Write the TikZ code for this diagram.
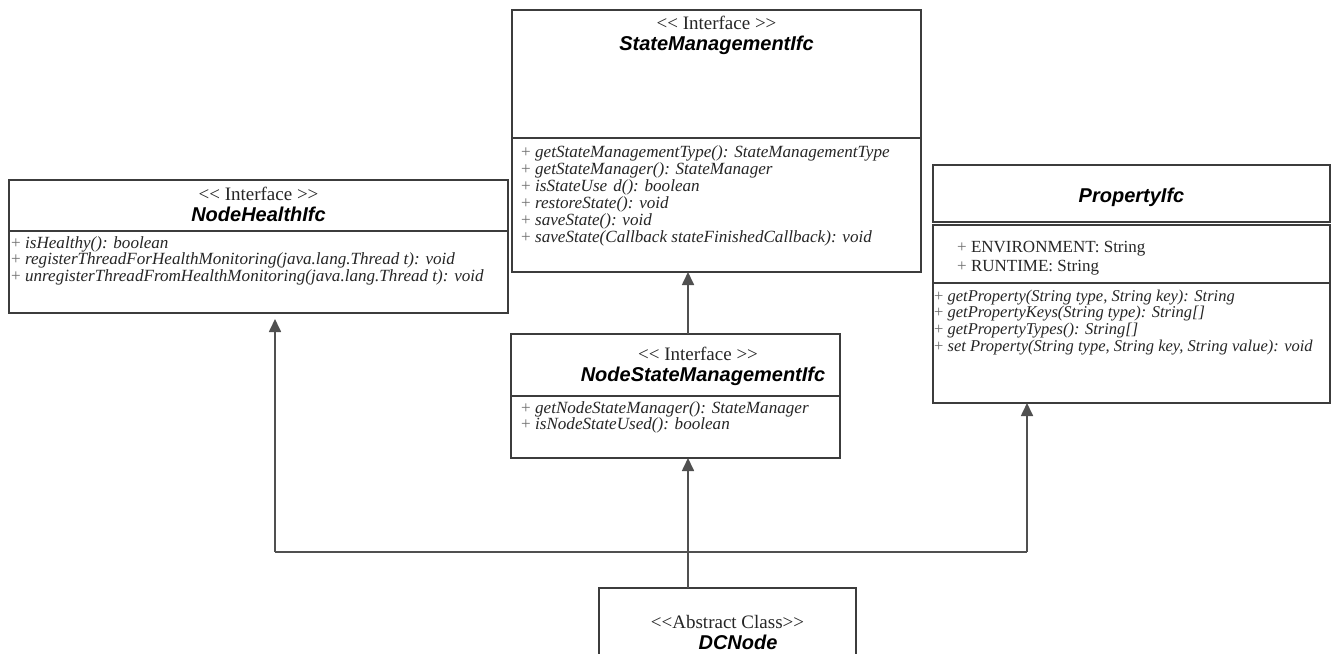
\documentclass[tikz,border=0pt]{standalone}
\usepackage{fontspec}
\setmainfont{Liberation Serif}
\newfontfamily\headfont{Liberation Sans}
\usetikzlibrary{arrows.meta}

\definecolor{frame}{HTML}{3C3C3C}
\definecolor{wire}{HTML}{505050}
\definecolor{ink}{HTML}{262626}
\definecolor{plusink}{HTML}{707070}

% stereotype brackets kept as two separate characters
\newcommand\dlt{<\kern0pt<}
\newcommand\dgt{>\kern0pt>}
\newcommand\plusmark{{\upshape\color{plusink}+}\ }

\tikzset{
  umlbox/.style={draw=frame, line width=1.7pt, rectangle, inner sep=0pt, outer sep=0pt, anchor=north west},
  divider/.style={draw=frame, line width=1.7pt},
  stereo/.style={font=\fontsize{19}{21}\selectfont, text=ink, inner sep=0pt, anchor=base},
  cname/.style={font=\headfont\bfseries\itshape\fontsize{20}{22}\selectfont, text=black, inner sep=0pt, anchor=base},
  member/.style={font=\itshape\fontsize{17.1}{18}\selectfont, text=ink, inner sep=0pt, anchor=base west},
  smallmember/.style={member, font=\itshape\fontsize{16.5}{18}\selectfont},
  attr/.style={font=\fontsize{17}{18}\selectfont, text=ink, inner sep=0pt, anchor=base west},
  wireline/.style={draw=wire, line width=1.7pt},
  inherit/.style={wireline, -{Triangle[width=12pt,length=13pt]}},
}

\begin{document}
\begin{tikzpicture}[x=1pt,y=-1pt]
\useasboundingbox (0,0) rectangle (1338,653);
\clip (0,0) rectangle (1338,653);
\fill[white] (0,0) rectangle (1338,653);

% StateManagementIfc
\node[umlbox, minimum width=409pt, minimum height=262pt] (sm) at (512,10) {};
\draw[divider] (512,138) -- (921,138);
\node[stereo] (sm-st) at (716.5,29) {{\dlt} Interface {\dgt}};
\node[cname] (sm-nm) at (716.5,50) {StateManagementIfc};
\foreach \t [count=\i] in {{getStateManagementType(): StateManagementType},
    {getStateManager(): StateManager}, {isStateUse\hspace{0.35em}d(): boolean},
    {restoreState(): void}, {saveState(): void},
    {saveState(Callback stateFinishedCallback): void}}
  \node[member] (sm-m\i) at (521,{157+17*(\i-1)}) {\plusmark\t};

% NodeHealthIfc
\node[umlbox, minimum width=499pt, minimum height=133pt] (nh) at (9,180) {};
\draw[divider] (9,231) -- (508,231);
\node[stereo] (nh-st) at (258.5,200) {{\dlt} Interface {\dgt}};
\node[cname] (nh-nm) at (258.5,221) {NodeHealthIfc};
\foreach \t [count=\i] in {{isHealthy(): boolean},
    {registerThreadForHealthMonitoring(java.lang.Thread t): void},
    {unregisterThreadFromHealthMonitoring(java.lang.Thread t): void}}
  \node[member] (nh-m\i) at (11,{248+16.5*(\i-1)}) {\plusmark\t};

% PropertyIfc
\node[umlbox, minimum width=397pt, minimum height=57pt] (ph) at (933,165) {};
\node[umlbox, minimum width=397pt, minimum height=178pt] (pb) at (933,225) {};
\draw[divider] (933,283) -- (1330,283);
\node[cname] (ph-nm) at (1131.5,202) {PropertyIfc};
\node[attr] (pb-a1) at (957,252) {\plusmark ENVIRONMENT: String};
\node[attr] (pb-a2) at (957,271) {\plusmark RUNTIME: String};
\foreach \t [count=\i] in {{getProperty(String type, String key): String},
    {getPropertyKeys(String type): String[]}, {getPropertyTypes(): String[]},
    {set Property(String type, String key, String value): void}}
  \node[smallmember] (pb-m\i) at (934,{301+16.7*(\i-1)}) {\plusmark\t};

% NodeStateManagementIfc
\node[umlbox, minimum width=329pt, minimum height=124pt] (nsm) at (511,334) {};
\draw[divider] (511,396) -- (840,396);
\node[stereo] (nsm-st) at (698,360) {{\dlt} Interface {\dgt}};
\node[cname] (nsm-nm) at (703,381) {NodeStateManagementIfc};
\foreach \t [count=\i] in {{getNodeStateManager(): StateManager},
    {isNodeStateUsed(): boolean}}
  \node[member] (nsm-m\i) at (521,{413+16.5*(\i-1)}) {\plusmark\t};

% DCNode
\node[umlbox, minimum width=257pt, minimum height=120pt] (dc) at (599,588) {};
\node[stereo] (dc-st) at (727.5,628) {{\dlt}Abstract Class{\dgt}};
\node[cname] (dc-nm) at (738,649) {DCNode};

% generalisation connectors
\coordinate (j) at (688,552);
\coordinate (jl) at (275,552);
\coordinate (jr) at (1027,552);
\draw[wireline] (jl) -- (jr);
\draw[inherit] (dc.north -| j) -- (nsm.south -| j);
\draw[inherit] (nsm.north -| j) -- (sm.south -| j);
\draw[inherit, shorten >=6pt] (jl) -- (nh.south -| jl);
\draw[inherit] (jr) -- (pb.south -| jr);
\end{tikzpicture}
\end{document}
